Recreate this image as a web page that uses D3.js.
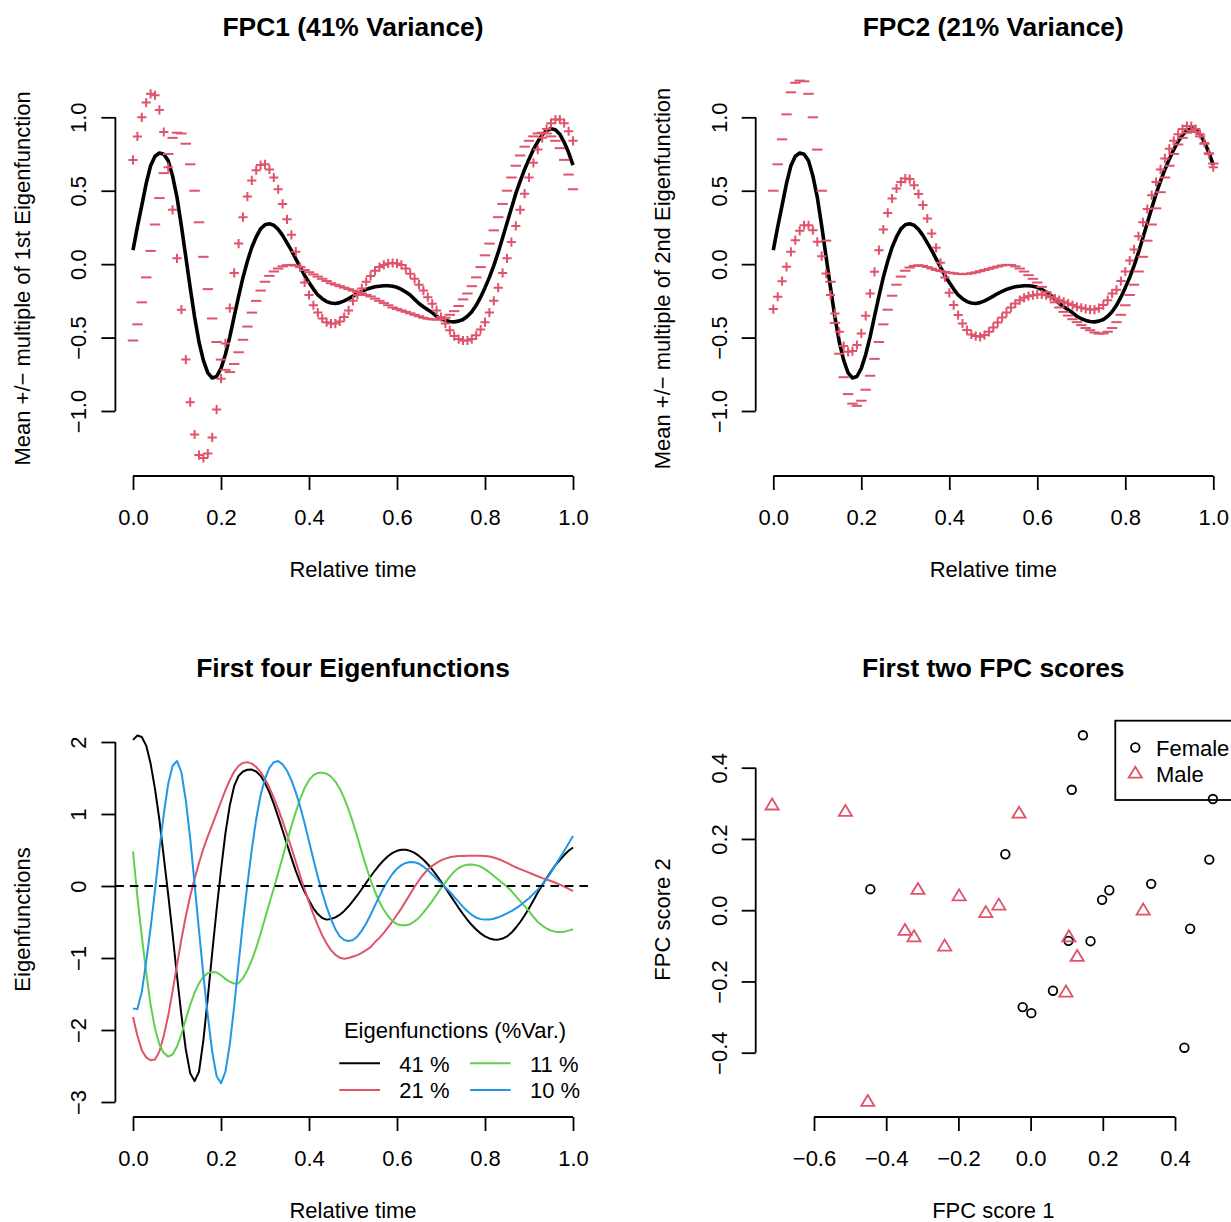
<!DOCTYPE html>
<head>
  <meta charset="utf-8">
  <script src="https://d3js.org/d3.v7.min.js"></script>
  <style>
    body { margin: 0; background: #fff; }
    text { font-family: "Liberation Sans", Arial, Helvetica, sans-serif; font-size: 22px; fill: #000; }
    text.title { font-size: 26.4px; font-weight: bold; }
    .axis path.domain { display: none; }
    .axis line, line.axisLine { stroke: #000; stroke-width: 1.8; }
  </style>
</head>
<body>
<script>
  // ---- data ----
  // evaluation grid of the functional data (relative time 0..1, step 0.01)
  const relTime = d3.range(101).map(i => i / 100);

  const meanCurve = [
    0.095, 0.254, 0.40, 0.55, 0.67, 0.735, 0.757, 0.748, 0.705, 0.60,
    0.455, 0.26, 0.05, -0.16, -0.36, -0.53, -0.655, -0.74, -0.775, -0.765,
    -0.71, -0.615, -0.495, -0.355, -0.22, -0.09, 0.02, 0.115, 0.185, 0.24,
    0.268, 0.275, 0.265, 0.237, 0.196, 0.145, 0.094, 0.036, -0.02, -0.077,
    -0.125, -0.17, -0.21, -0.235, -0.255, -0.265, -0.268, -0.262, -0.25, -0.235,
    -0.218, -0.20, -0.185, -0.172, -0.162, -0.154, -0.15, -0.147, -0.147, -0.15,
    -0.158, -0.172, -0.19, -0.21, -0.24, -0.268, -0.29, -0.31, -0.33, -0.355,
    -0.372, -0.383, -0.39, -0.393, -0.388, -0.377, -0.355, -0.324, -0.28, -0.225,
    -0.16, -0.09, -0.01, 0.08, 0.18, 0.28, 0.38, 0.48, 0.565, 0.645,
    0.715, 0.78, 0.835, 0.88, 0.91, 0.922, 0.915, 0.885, 0.83, 0.76,
    0.674];

  // mean + / - multiple of FPC1
  const plusFPC1 = [
    0.71, 0.87, 1.00, 1.10, 1.16, 1.15, 1.05, 0.90, 0.66, 0.37,
    0.04, -0.31, -0.65, -0.94, -1.16, -1.30, -1.32, -1.29, -1.18, -0.99,
    -0.78, -0.54, -0.30, -0.06, 0.14, 0.32, 0.46, 0.57, 0.64, 0.675,
    0.68, 0.645, 0.59, 0.51, 0.41, 0.305, 0.20, 0.085, -0.02, -0.125,
    -0.21, -0.28, -0.33, -0.37, -0.395, -0.405, -0.405, -0.39, -0.36, -0.315,
    -0.25, -0.21, -0.165, -0.12, -0.08, -0.045, -0.02, -0.005, 0.005, 0.008,
    0.005, -0.005, -0.03, -0.065, -0.10, -0.14, -0.18, -0.225, -0.27, -0.315,
    -0.36, -0.405, -0.45, -0.49, -0.51, -0.52, -0.52, -0.51, -0.485, -0.445,
    -0.395, -0.33, -0.25, -0.16, -0.06, 0.04, 0.15, 0.26, 0.37, 0.48,
    0.59, 0.69, 0.78, 0.86, 0.92, 0.96, 0.985, 0.985, 0.96, 0.905,
    0.84];
  const minusFPC1 = [
    -0.52, -0.41, -0.26, -0.09, 0.09, 0.27, 0.45, 0.62, 0.75, 0.86,
    0.895, 0.89, 0.82, 0.68, 0.50, 0.285, 0.05, -0.17, -0.37, -0.53,
    -0.65, -0.72, -0.735, -0.68, -0.60, -0.515, -0.425, -0.33, -0.25, -0.18,
    -0.12, -0.08, -0.05, -0.03, -0.015, -0.007, -0.005, -0.01, -0.02, -0.04,
    -0.055, -0.07, -0.085, -0.10, -0.115, -0.13, -0.14, -0.15, -0.16, -0.17,
    -0.18, -0.19, -0.20, -0.21, -0.22, -0.235, -0.25, -0.265, -0.28, -0.295,
    -0.305, -0.315, -0.325, -0.335, -0.345, -0.355, -0.365, -0.372, -0.376, -0.378,
    -0.375, -0.365, -0.345, -0.32, -0.285, -0.24, -0.20, -0.15, -0.09, -0.02,
    0.06, 0.14, 0.23, 0.32, 0.41, 0.50, 0.59, 0.67, 0.74, 0.80,
    0.84, 0.87, 0.89, 0.895, 0.89, 0.87, 0.84, 0.79, 0.71, 0.61,
    0.51];

  // mean + / - multiple of FPC2
  const plusFPC2 = [
    -0.306, -0.222, -0.116, -0.018, 0.084, 0.163, 0.227, 0.265, 0.265, 0.231,
    0.152, 0.054, -0.064, -0.21, -0.336, -0.461, -0.558, -0.597, -0.592, -0.551,
    -0.472, -0.352, -0.20, -0.052, 0.095, 0.236, 0.349, 0.447, 0.515, 0.56,
    0.583, 0.579, 0.538, 0.477, 0.402, 0.311, 0.209, 0.111, 0.009, -0.091,
    -0.195, -0.279, -0.347, -0.404, -0.449, -0.479, -0.49, -0.495, -0.483, -0.461,
    -0.431, -0.397, -0.363, -0.329, -0.295, -0.268, -0.245, -0.229, -0.218, -0.211,
    -0.206, -0.206, -0.211, -0.222, -0.234, -0.245, -0.256, -0.268, -0.279, -0.29,
    -0.297, -0.304, -0.309, -0.309, -0.30, -0.279, -0.245, -0.20, -0.175, -0.115,
    -0.05, 0.025, 0.10, 0.19, 0.285, 0.375, 0.47, 0.56, 0.645, 0.72,
    0.785, 0.84, 0.885, 0.92, 0.94, 0.94, 0.92, 0.885, 0.825, 0.75,
    0.66];
  const minusFPC2 = [
    0.50, 0.68, 0.85, 1.02, 1.17, 1.235, 1.25, 1.245, 1.16, 1.00,
    0.78, 0.50, 0.16, -0.12, -0.40, -0.61, -0.77, -0.885, -0.95, -0.965,
    -0.93, -0.855, -0.76, -0.645, -0.53, -0.41, -0.31, -0.215, -0.14, -0.085,
    -0.045, -0.023, -0.012, -0.007, -0.012, -0.02, -0.03, -0.04, -0.047, -0.053,
    -0.058, -0.062, -0.066, -0.068, -0.066, -0.062, -0.056, -0.048, -0.04, -0.032,
    -0.024, -0.016, -0.009, -0.005, -0.006, -0.015, -0.03, -0.05, -0.075, -0.10,
    -0.125, -0.155, -0.19, -0.225, -0.26, -0.295, -0.325, -0.35, -0.375, -0.395,
    -0.415, -0.435, -0.45, -0.465, -0.473, -0.472, -0.46, -0.435, -0.395, -0.345,
    -0.28, -0.21, -0.14, -0.05, 0.05, 0.16, 0.27, 0.38, 0.49, 0.59,
    0.67, 0.75, 0.815, 0.86, 0.895, 0.91, 0.90, 0.87, 0.82, 0.755,
    0.685];

  // first four eigenfunctions
  const eigen1 = [
    2.03, 2.09, 2.07, 1.95, 1.70, 1.35, 0.92, 0.40, -0.12, -0.67,
    -1.25, -1.79, -2.27, -2.60, -2.71, -2.58, -2.14, -1.55, -0.93, -0.33,
    0.22, 0.73, 1.12, 1.39, 1.53, 1.59, 1.615, 1.617, 1.59, 1.53,
    1.43, 1.30, 1.14, 0.96, 0.77, 0.58, 0.39, 0.21, 0.05, -0.08,
    -0.20, -0.31, -0.39, -0.445, -0.467, -0.459, -0.436, -0.398, -0.346, -0.282,
    -0.208, -0.128, -0.042, 0.045, 0.132, 0.215, 0.292, 0.359, 0.416, 0.46,
    0.489, 0.503, 0.504, 0.488, 0.459, 0.418, 0.365, 0.302, 0.229, 0.149,
    0.063, -0.028, -0.12, -0.212, -0.303, -0.389, -0.469, -0.542, -0.605, -0.658,
    -0.699, -0.728, -0.742, -0.745, -0.73, -0.70, -0.65, -0.58, -0.50, -0.41,
    -0.31, -0.20, -0.09, 0.01, 0.11, 0.20, 0.29, 0.36, 0.43, 0.49,
    0.534];
  const eigen2 = [
    -1.82, -2.08, -2.28, -2.38, -2.42, -2.41, -2.30, -2.08, -1.80, -1.46,
    -1.10, -0.74, -0.42, -0.14, 0.10, 0.32, 0.52, 0.69, 0.85, 1.01,
    1.17, 1.33, 1.47, 1.59, 1.67, 1.71, 1.72, 1.70, 1.655, 1.582,
    1.487, 1.367, 1.227, 1.07, 0.901, 0.718, 0.53, 0.336, 0.143, -0.045,
    -0.225, -0.393, -0.547, -0.684, -0.80, -0.89, -0.957, -0.996, -1.01, -1.00,
    -0.98, -0.96, -0.93, -0.89, -0.85, -0.78, -0.72, -0.65, -0.57, -0.49,
    -0.40, -0.31, -0.21, -0.11, -0.01, 0.08, 0.16, 0.23, 0.28, 0.32,
    0.355, 0.38, 0.40, 0.41, 0.415, 0.418, 0.42, 0.42, 0.42, 0.42,
    0.415, 0.41, 0.395, 0.375, 0.35, 0.32, 0.29, 0.26, 0.235, 0.21,
    0.185, 0.16, 0.135, 0.11, 0.09, 0.07, 0.045, 0.02, -0.01, -0.04,
    -0.07];
  const eigen3 = [
    0.48, -0.15, -0.70, -1.20, -1.65, -1.98, -2.20, -2.32, -2.37, -2.34,
    -2.23, -2.06, -1.85, -1.65, -1.48, -1.35, -1.26, -1.21, -1.195, -1.20,
    -1.24, -1.29, -1.33, -1.355, -1.35, -1.28, -1.17, -1.03, -0.86, -0.66,
    -0.45, -0.24, -0.03, 0.18, 0.40, 0.62, 0.83, 1.03, 1.21, 1.36,
    1.47, 1.54, 1.57, 1.575, 1.56, 1.52, 1.45, 1.35, 1.22, 1.06,
    0.88, 0.68, 0.47, 0.27, 0.08, -0.08, -0.22, -0.33, -0.42, -0.49,
    -0.53, -0.545, -0.546, -0.53, -0.49, -0.44, -0.37, -0.29, -0.21, -0.12,
    -0.03, 0.05, 0.13, 0.20, 0.25, 0.28, 0.295, 0.297, 0.29, 0.27,
    0.235, 0.19, 0.14, 0.09, 0.04, -0.01, -0.07, -0.14, -0.21, -0.28,
    -0.35, -0.43, -0.50, -0.55, -0.59, -0.62, -0.635, -0.64, -0.635, -0.62,
    -0.60];
  const eigen4 = [
    -1.70, -1.71, -1.47, -1.05, -0.58, -0.06, 0.50, 1.00, 1.42, 1.67,
    1.737, 1.58, 1.19, 0.66, 0.03, -0.62, -1.24, -1.80, -2.30, -2.64,
    -2.74, -2.58, -2.20, -1.67, -1.08, -0.50, 0.02, 0.51, 0.93, 1.26,
    1.49, 1.64, 1.72, 1.735, 1.69, 1.60, 1.47, 1.30, 1.10, 0.87,
    0.62, 0.37, 0.13, -0.09, -0.29, -0.46, -0.60, -0.70, -0.75, -0.765,
    -0.75, -0.70, -0.62, -0.52, -0.40, -0.27, -0.14, -0.02, 0.08, 0.17,
    0.24, 0.29, 0.32, 0.333, 0.33, 0.31, 0.27, 0.22, 0.16, 0.10,
    0.04, -0.02, -0.08, -0.15, -0.22, -0.29, -0.35, -0.40, -0.44, -0.46,
    -0.467, -0.465, -0.455, -0.435, -0.41, -0.38, -0.35, -0.31, -0.27, -0.22,
    -0.17, -0.11, -0.05, 0.02, 0.10, 0.19, 0.29, 0.39, 0.49, 0.59,
    0.695];
  const eigenLabels = ["41 %", "21 %", "11 %", "10 %"];
  const eigenColors = ["#000000", "#DF536B", "#61D04F", "#2297E6"];

  // FPC scores
  const femaleScore1 = [0.145, 0.114, 0.505, -0.070, 0.495, -0.444, 0.334, 0.218, 0.198, 0.442, 0.105, 0.166, 0.062, -0.022, 0.002, 0.426];
  const femaleScore2 = [0.491, 0.338, 0.312, 0.157, 0.142, 0.059, 0.074, 0.056, 0.029, -0.052, -0.086, -0.087, -0.226, -0.272, -0.289, -0.386];
  const maleScore1 = [-0.716, -0.513, -0.032, -0.312, -0.198, -0.088, -0.124, 0.312, -0.348, -0.323, -0.238, 0.106, 0.129, 0.098, -0.451];
  const maleScore2 = [0.293, 0.275, 0.270, 0.056, 0.038, 0.012, -0.009, -0.002, -0.059, -0.077, -0.103, -0.077, -0.132, -0.232, -0.539];

  // tick values
  const timeTicks = [0, 0.2, 0.4, 0.6, 0.8, 1.0];
  const fpcTicks = [-1, -0.5, 0, 0.5, 1];
  const eigenTicks = [-3, -2, -1, 0, 1, 2];
  const score1Ticks = [-0.6, -0.4, -0.2, 0, 0.2, 0.4];
  const score2Ticks = [-0.4, -0.2, 0, 0.2, 0.4];

  // ---- drawing ----
  const width = 1231, height = 1222;
  const pink = "#DF536B";
  const svg = d3.select("body").append("svg")
    .attr("width", width)
    .attr("height", height);

  const minusSign = s => s.replace("-", "\u2212");
  const fmt1 = d => minusSign(d3.format(".1f")(d));
  const fmt0 = d => minusSign(String(d));

  // plot region of each panel (R style mfrow 2x2)
  function panelBox(col, row) {
    const left = 115.4 + col * 640.3, bottom = 476 + row * 641;
    return {left: left, right: left + 475.2, bottom: bottom, top: bottom - 395,
            cx: left + 237.6, cy: bottom - 197.5};
  }

  function drawAxes(p, x, y, xTicks, yTicks, xFmt, yFmt) {
    const gx = svg.append("g").attr("class", "axis")
      .attr("transform", `translate(0,${p.bottom})`)
      .call(d3.axisBottom(x).tickValues(xTicks).tickSize(14).tickPadding(19.5).tickFormat(xFmt));
    gx.append("line").attr("class", "axisLine")
      .attr("x1", x(xTicks[0])).attr("x2", x(xTicks[xTicks.length - 1]));

    const gy = svg.append("g").attr("class", "axis")
      .attr("transform", `translate(${p.left},0)`)
      .call(d3.axisLeft(y).tickValues(yTicks).tickSize(14).tickFormat(yFmt));
    // R draws y tick labels parallel to the axis
    gy.selectAll(".tick text")
      .attr("x", 0).attr("y", -29).attr("dy", null)
      .attr("transform", "rotate(-90)")
      .attr("text-anchor", "middle");
    gy.append("line").attr("class", "axisLine")
      .attr("y1", y(yTicks[0])).attr("y2", y(yTicks[yTicks.length - 1]));
  }

  function panelText(p, title, xTitle, yTitle) {
    svg.append("text").attr("class", "title")
      .attr("x", p.cx).attr("y", p.top - 45.5)
      .attr("text-anchor", "middle").text(title);
    svg.append("text")
      .attr("x", p.cx).attr("y", p.bottom + 100.5)
      .attr("text-anchor", "middle").text(xTitle);
    svg.append("text")
      .attr("transform", `translate(${p.left - 85.4},${p.cy}) rotate(-90)`)
      .attr("text-anchor", "middle").text(yTitle);
  }

  // top panels: mean curve with +/- markers
  function fpcPanel(col, title, yTitle, plusVals, minusVals) {
    const p = panelBox(col, 0);
    const x = d3.scaleLinear().domain([0, 1]).range([p.left + 17.6, p.left + 457.6]);
    const y = d3.scaleLinear().domain([-1, 1]).range([411, 117.3]);
    drawAxes(p, x, y, timeTicks, fpcTicks, fmt1, fmt1);
    panelText(p, title, "Relative time", yTitle);

    svg.append("path").datum(meanCurve)
      .attr("fill", "none").attr("stroke", "#000")
      .attr("stroke-width", 3.6).attr("stroke-linejoin", "round")
      .attr("d", d3.line().x((d, i) => x(relTime[i])).y(d => y(d)));

    const g = svg.append("g").attr("fill", "none").attr("stroke", pink).attr("stroke-width", 2);
    g.selectAll("path.plus").data(plusVals).join("path")
      .attr("class", "plus")
      .attr("transform", (d, i) => `translate(${x(relTime[i])},${y(d)})`)
      .attr("d", "M-4.6,0H4.6M0,-4.6V4.6");
    g.selectAll("path.minus").data(minusVals).join("path")
      .attr("class", "minus")
      .attr("transform", (d, i) => `translate(${x(relTime[i])},${y(d)})`)
      .attr("d", "M-5.2,0H5.2");
  }

  fpcPanel(0, "FPC1 (41% Variance)", "Mean +/\u2212 multiple of 1st Eigenfunction", plusFPC1, minusFPC1);
  fpcPanel(1, "FPC2 (21% Variance)", "Mean +/\u2212 multiple of 2nd Eigenfunction", plusFPC2, minusFPC2);

  // bottom left: eigenfunctions
  {
    const p = panelBox(0, 1);
    const x = d3.scaleLinear().domain([0, 1]).range([p.left + 17.6, p.left + 457.6]);
    const y = d3.scaleLinear().domain([-3, 2]).range([1102, 742]);
    drawAxes(p, x, y, timeTicks, eigenTicks, fmt1, fmt0);
    panelText(p, "First four Eigenfunctions", "Relative time", "Eigenfunctions");

    const line = d3.line().x((d, i) => x(relTime[i])).y(d => y(d));
    [eigen1, eigen2, eigen3, eigen4].forEach((ef, k) => {
      svg.append("path").datum(ef)
        .attr("fill", "none").attr("stroke", eigenColors[k])
        .attr("stroke-width", 2).attr("stroke-linejoin", "round")
        .attr("d", line);
    });

    svg.append("line")
      .attr("x1", p.left).attr("x2", p.right)
      .attr("y1", y(0)).attr("y2", y(0))
      .attr("stroke", "#000").attr("stroke-width", 2)
      .attr("stroke-dasharray", "8.5,6");

    // legend, two columns
    svg.append("text").attr("x", p.left + 339.6).attr("y", 1038)
      .attr("text-anchor", "middle").text("Eigenfunctions (%Var.)");
    eigenLabels.forEach((lab, k) => {
      const colX = p.left + 223.9 + Math.floor(k / 2) * 130.7;
      const rowY = 1063.3 + (k % 2) * 26.7;
      svg.append("line")
        .attr("x1", colX).attr("x2", colX + 40.7)
        .attr("y1", rowY).attr("y2", rowY)
        .attr("stroke", eigenColors[k]).attr("stroke-width", 2);
      svg.append("text").attr("x", colX + 60).attr("y", rowY + 8.2).text(lab);
    });
  }

  // bottom right: FPC scores
  {
    const p = panelBox(1, 1);
    const x = d3.scaleLinear().domain([-0.6, 0.4]).range([814, 1175]);
    const y = d3.scaleLinear().domain([-0.4, 0.4]).range([1052.7, 767.7]);
    drawAxes(p, x, y, score1Ticks, score2Ticks, fmt1, fmt1);
    panelText(p, "First two FPC scores", "FPC score 1", "FPC score 2");

    const tri = "M0,-7.3L6.6,3.7L-6.6,3.7Z";

    // legend (box runs off the right edge as in the original)
    svg.append("rect")
      .attr("x", 1115.3).attr("y", 720.7).attr("width", 130).attr("height", 79.3)
      .attr("fill", "none").attr("stroke", "#000").attr("stroke-width", 1.8);
    svg.append("circle").attr("cx", 1135.3).attr("cy", 747.5).attr("r", 4.3)
      .attr("fill", "none").attr("stroke", "#000").attr("stroke-width", 1.8);
    svg.append("text").attr("x", 1156).attr("y", 755.6).text("Female");
    svg.append("path").attr("d", tri).attr("transform", "translate(1135.3,774)")
      .attr("fill", "none").attr("stroke", pink).attr("stroke-width", 1.8);
    svg.append("text").attr("x", 1156).attr("y", 782.2).text("Male");

    svg.append("g").selectAll("circle")
      .data(femaleScore1.map((s, i) => [s, femaleScore2[i]]))
      .join("circle")
      .attr("cx", d => x(d[0])).attr("cy", d => y(d[1])).attr("r", 4.3)
      .attr("fill", "none").attr("stroke", "#000").attr("stroke-width", 1.8);

    svg.append("g").selectAll("path")
      .data(maleScore1.map((s, i) => [s, maleScore2[i]]))
      .join("path")
      .attr("d", tri)
      .attr("transform", d => `translate(${x(d[0])},${y(d[1])})`)
      .attr("fill", "none").attr("stroke", pink).attr("stroke-width", 1.8);
  }
</script>
</body>
